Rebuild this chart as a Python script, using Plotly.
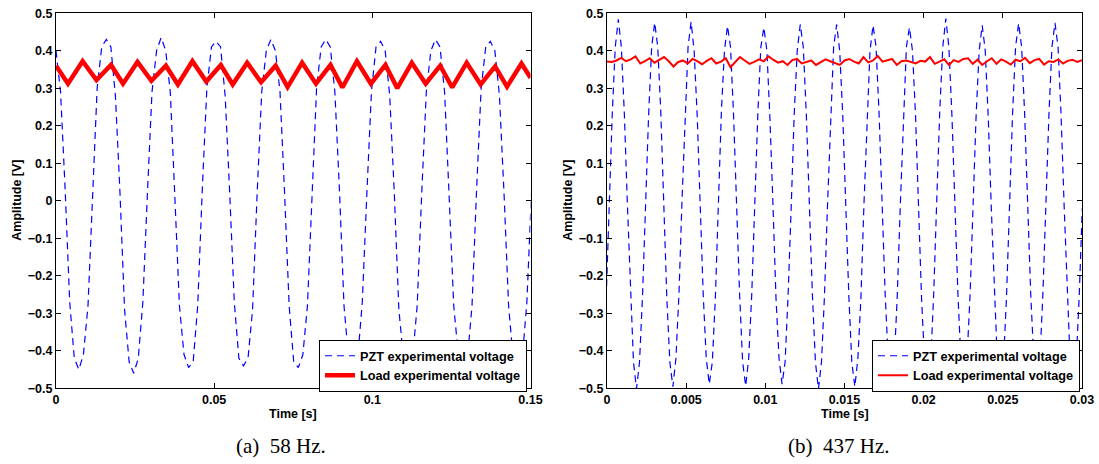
import numpy as np
import plotly.graph_objects as go

# ---------------- (a) 58 Hz ----------------
# PZT voltage, sampled every DT_A seconds from t = 0
DT_A = 0.0014452
pzt_a = [
    0.40, 0.29, 0.03, -0.27, -0.42, -0.45, -0.41, -0.28, 0.01, 0.30, 0.41, 0.43,
    0.41, 0.28, 0.02, -0.29, -0.43, -0.46, -0.42, -0.27, 0.02, 0.29, 0.40, 0.435,
    0.40, 0.29, 0.01, -0.28, -0.41, -0.445, -0.43, -0.28, 0.03, 0.30, 0.41, 0.425,
    0.41, 0.28, 0.02, -0.27, -0.42, -0.44, -0.42, -0.29, 0.02, 0.29, 0.40, 0.43,
    0.40, 0.29, 0.02, -0.28, -0.43, -0.445, -0.41, -0.28, 0.01, 0.30, 0.41, 0.43,
    0.41, 0.29, 0.03, -0.28, -0.42, -0.45, -0.42, -0.27, 0.02, 0.29, 0.41, 0.425,
    0.40, 0.28, 0.02, -0.29, -0.42, -0.44, -0.42, -0.28, 0.02, 0.29, 0.40, 0.43,
    0.41, 0.29, 0.01, -0.28, -0.41, -0.45, -0.42, -0.28, 0.03, 0.30, 0.41, 0.425,
    0.40, 0.28, 0.02, -0.28, -0.42, -0.445, -0.42, -0.27, 0.02,
]

# Load voltage ripple: turning points (time, value)
load_a_t = [
    0.0, 0.00379, 0.00841, 0.01280, 0.01739, 0.02118, 0.02576, 0.03016,
    0.03474, 0.03853, 0.04312, 0.04751, 0.05210, 0.05586, 0.06044, 0.06484,
    0.06942, 0.07321, 0.07780, 0.08219, 0.08677, 0.09054, 0.09512, 0.09955,
    0.10413, 0.10789, 0.11248, 0.11687, 0.12145, 0.12525, 0.12983, 0.13423,
    0.13881, 0.14257, 0.14715, 0.15,
]
load_a = [
    0.360, 0.312, 0.372, 0.322, 0.362, 0.312, 0.370, 0.320,
    0.360, 0.310, 0.372, 0.318, 0.362, 0.310, 0.368, 0.316,
    0.360, 0.303, 0.368, 0.312, 0.362, 0.302, 0.372, 0.312,
    0.362, 0.300, 0.368, 0.312, 0.360, 0.302, 0.368, 0.310,
    0.358, 0.304, 0.366, 0.328,
]

# ---------------- (b) 437 Hz ----------------
T0_B = -0.000052
DT_B = 0.00019153
pzt_b = [
    -0.26, -0.02, 0.23, 0.41,
    0.484, 0.41, 0.23, -0.01, -0.25, -0.43, -0.502, -0.43, -0.25, -0.01, 0.23, 0.41,
    0.475, 0.41, 0.24, -0.01, -0.26, -0.43, -0.496, -0.42, -0.25, 0.00, 0.23, 0.41,
    0.477, 0.40, 0.23, -0.02, -0.25, -0.42, -0.489, -0.43, -0.26, -0.01, 0.24, 0.40,
    0.466, 0.41, 0.23, -0.01, -0.25, -0.43, -0.494, -0.42, -0.25, -0.01, 0.23, 0.41,
    0.462, 0.40, 0.22, -0.01, -0.26, -0.42, -0.489, -0.43, -0.25, -0.02, 0.23, 0.40,
    0.470, 0.41, 0.23, -0.01, -0.25, -0.43, -0.502, -0.43, -0.25, -0.01, 0.23, 0.41,
    0.470, 0.40, 0.23, -0.02, -0.25, -0.43, -0.496, -0.42, -0.26, -0.01, 0.22, 0.40,
    0.468, 0.41, 0.23, -0.01, -0.25, -0.42, -0.490, -0.43, -0.25, -0.01, 0.23, 0.41,
    0.462, 0.40, 0.23, -0.01, -0.26, -0.43, -0.495, -0.43, -0.25, 0.00, 0.24, 0.41,
    0.486, 0.41, 0.23, -0.01, -0.25, -0.43, -0.492, -0.42, -0.25, -0.01, 0.23, 0.40,
    0.468, 0.40, 0.22, -0.02, -0.25, -0.43, -0.498, -0.43, -0.26, -0.01, 0.23, 0.41,
    0.473, 0.41, 0.23, -0.01, -0.25, -0.42, -0.490, -0.43, -0.25, -0.01, 0.23, 0.41,
    0.474, 0.41, 0.23, -0.01, -0.25, -0.43, -0.495, -0.43, -0.25, -0.02,
]

DT_LOAD_B = 0.0003
load_b = [
    0.371, 0.370, 0.374, 0.381, 0.372, 0.377, 0.385, 0.366, 0.372, 0.380,
    0.368, 0.376, 0.383, 0.372, 0.358, 0.370, 0.374, 0.366, 0.378, 0.372,
    0.364, 0.373, 0.380, 0.366, 0.371, 0.380, 0.356, 0.370, 0.383, 0.374,
    0.365, 0.370, 0.377, 0.372, 0.385, 0.376, 0.368, 0.372, 0.362, 0.375,
    0.378, 0.366, 0.371, 0.374, 0.362, 0.370, 0.377, 0.372, 0.368, 0.362,
    0.374, 0.378, 0.371, 0.366, 0.383, 0.369, 0.374, 0.386, 0.371, 0.375,
    0.378, 0.362, 0.372, 0.374, 0.370, 0.366, 0.373, 0.371, 0.383, 0.365,
    0.371, 0.377, 0.362, 0.375, 0.370, 0.378, 0.380, 0.365, 0.376, 0.362,
    0.372, 0.380, 0.365, 0.377, 0.371, 0.363, 0.376, 0.372, 0.381, 0.367,
    0.375, 0.378, 0.363, 0.372, 0.370, 0.377, 0.366, 0.373, 0.376, 0.370,
    0.375,
]

x_ticks_a = [0, 0.05, 0.1, 0.15]
x_labels_a = ["0", "0.05", "0.1", "0.15"]
x_ticks_b = [0, 0.005, 0.01, 0.015, 0.02, 0.025, 0.03]
x_labels_b = ["0", "0.005", "0.01", "0.015", "0.02", "0.025", "0.03"]
y_ticks = [-0.5, -0.4, -0.3, -0.2, -0.1, 0, 0.1, 0.2, 0.3, 0.4, 0.5]
y_labels = ["\u22120.5", "\u22120.4", "\u22120.3", "\u22120.2", "\u22120.1", "0",
            "0.1", "0.2", "0.3", "0.4", "0.5"]

captions = ["(a)\u00a0 58 Hz.", "(b)\u00a0 437 Hz."]
names = ["PZT experimental voltage", "Load experimental voltage"]

t_pzt_a = np.arange(len(pzt_a)) * DT_A
t_pzt_b = T0_B + np.arange(len(pzt_b)) * DT_B
t_load_b = np.arange(len(load_b)) * DT_LOAD_B

W, H = 1099, 464
BLUE = "rgb(0,0,255)"
RED = "rgb(255,0,0)"
SANS = "Liberation Sans"
font_tick = dict(family=SANS, size=12.5, color="black")
font_leg = dict(family=SANS, size=12.7, color="black")


def b(s):
    return "<b>" + s + "</b>"


fig = go.Figure()
fig.add_trace(go.Scatter(x=t_pzt_a, y=pzt_a, mode="lines", name=b(names[0]),
                         line=dict(color=BLUE, width=1.2, dash="7px,5px"),
                         xaxis="x", yaxis="y", legend="legend"))
fig.add_trace(go.Scatter(x=load_a_t, y=load_a, mode="lines", name=b(names[1]),
                         line=dict(color=RED, width=4.5),
                         xaxis="x", yaxis="y", legend="legend"))
fig.add_trace(go.Scatter(x=t_pzt_b, y=pzt_b, mode="lines", name=b(names[0]),
                         line=dict(color=BLUE, width=1.2, dash="7px,5px"),
                         xaxis="x2", yaxis="y2", legend="legend2"))
fig.add_trace(go.Scatter(x=t_load_b, y=load_b, mode="lines", name=b(names[1]),
                         line=dict(color=RED, width=2),
                         xaxis="x2", yaxis="y2", legend="legend2"))

# plot-area pixel boxes
L_A, R_A = 56, 530.5
L_B, R_B = 607, 1082
TOP, BOT = 13.2, 388.3


def px(x):
    return x / W


def py(y):
    return 1 - y / H


axis_common = dict(showline=True, linecolor="black", linewidth=1, mirror="ticks",
                   ticks="inside", ticklen=5, tickcolor="black", showgrid=False,
                   zeroline=False, tickfont=font_tick, automargin=False)

fig.update_layout(
    width=W, height=H, margin=dict(l=0, r=0, t=0, b=0, autoexpand=False),
    paper_bgcolor="white", plot_bgcolor="white",
    xaxis=dict(domain=[px(L_A), px(R_A)], range=[0, 0.15], tickvals=x_ticks_a,
               ticktext=[b(s) for s in x_labels_a], anchor="y", **axis_common),
    yaxis=dict(domain=[py(BOT), py(TOP)], range=[-0.5, 0.5], tickvals=y_ticks,
               ticktext=[b(s) for s in y_labels], anchor="x", **axis_common),
    xaxis2=dict(domain=[px(L_B), px(R_B)], range=[0, 0.03], tickvals=x_ticks_b,
                ticktext=[b(s) for s in x_labels_b], anchor="y2", **axis_common),
    yaxis2=dict(domain=[py(BOT), py(TOP)], range=[-0.5, 0.5], tickvals=y_ticks,
                ticktext=[b(s) for s in y_labels], anchor="x2", **axis_common),
    legend=dict(x=px(527), y=py(392), xanchor="right", yanchor="bottom",
                bgcolor="white", bordercolor="black", borderwidth=1, font=font_leg,
                tracegroupgap=0),
    legend2=dict(x=px(1080), y=py(392), xanchor="right", yanchor="bottom",
                 bgcolor="white", bordercolor="black", borderwidth=1, font=font_leg,
                 tracegroupgap=0),
    showlegend=True,
)

annotations = []
for left, right in [(L_A, R_A), (L_B, R_B)]:
    annotations.append(dict(text=b("Time [s]"), x=px((left + right) / 2), y=py(413.5),
                            xref="paper", yref="paper", showarrow=False,
                            xanchor="center", yanchor="middle", font=font_tick))
    annotations.append(dict(text=b("Amplitude [V]"), x=px(left - 39), y=py((TOP + BOT) / 2),
                            xref="paper", yref="paper", showarrow=False, textangle=-90,
                            xanchor="center", yanchor="middle", font=font_tick))
for cap, cap_x in zip(captions, [281, 838]):
    annotations.append(dict(text=cap, x=px(cap_x), y=py(446), xref="paper", yref="paper",
                            showarrow=False, xanchor="center", yanchor="middle",
                            font=dict(family="Liberation Serif", size=21, color="black")))
fig.update_layout(annotations=annotations)

fig.write_html("out.html")
